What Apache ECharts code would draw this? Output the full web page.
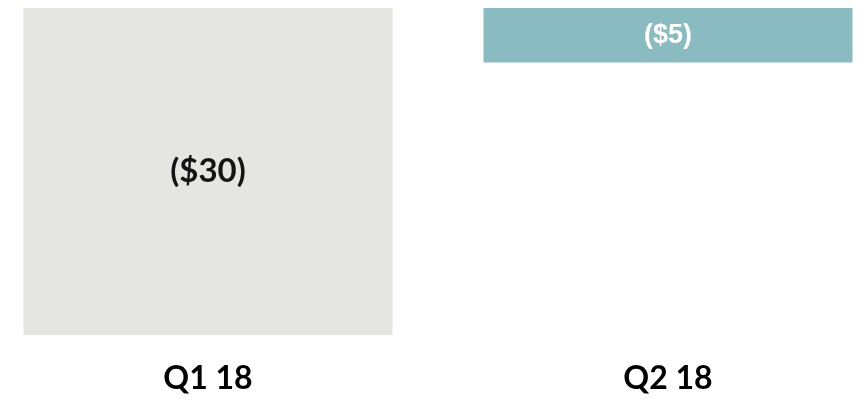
<!DOCTYPE html>
<html>
<head>
<meta charset="utf-8">
<script src="https://cdn.jsdelivr.net/npm/echarts@6/dist/echarts.min.js"></script>
<style>
  html, body { margin: 0; padding: 0; background: #ffffff; overflow: hidden; }
  /* The plot is a little wider than the page so the two bars sit near the edges */
  #chart { position: absolute; left: -22px; top: 0; width: 920px; height: 401px; }
</style>
</head>
<body>
<div id="chart"></div>
<script>
// Quarterly change, in dollars (negative values hang down from zero)
const quarters = ['Q1 18', 'Q2 18'];
const changes = [-30, -5];
const barColors = ['#E5E6E1', '#89BBC1'];
const labelColors = ['#141414', '#ffffff'];
const labelFonts = ['Lato', '"Liberation Sans", Arial, sans-serif'];
const labelSizes = [33, 27];

const fmt = v => v < 0 ? '($' + Math.abs(v) + ')' : '$' + v;

const chart = echarts.init(document.getElementById('chart'));
chart.setOption({
  animation: false,
  grid: { left: 0, right: 0, top: 8, bottom: 66, containLabel: false },
  xAxis: {
    type: 'category',
    data: quarters,
    position: 'bottom',
    axisLine: { show: false },
    axisTick: { show: false },
    axisLabel: {
      margin: 28,
      fontFamily: 'Lato',
      fontWeight: 'bold',
      fontSize: 32,
      color: '#000000'
    }
  },
  yAxis: {
    type: 'value',
    min: -30,
    max: 0,
    show: false,
    splitLine: { show: false }
  },
  series: [{
    type: 'bar',
    barWidth: 369,
    data: changes.map((v, i) => ({
      value: v,
      itemStyle: { color: barColors[i] },
      label: {
        show: true,
        position: 'inside',
        formatter: p => fmt(p.value),
        color: labelColors[i],
        fontFamily: labelFonts[i],
        fontWeight: 'bold',
        fontSize: labelSizes[i]
      }
    }))
  }]
});
</script>
</body>
</html>
